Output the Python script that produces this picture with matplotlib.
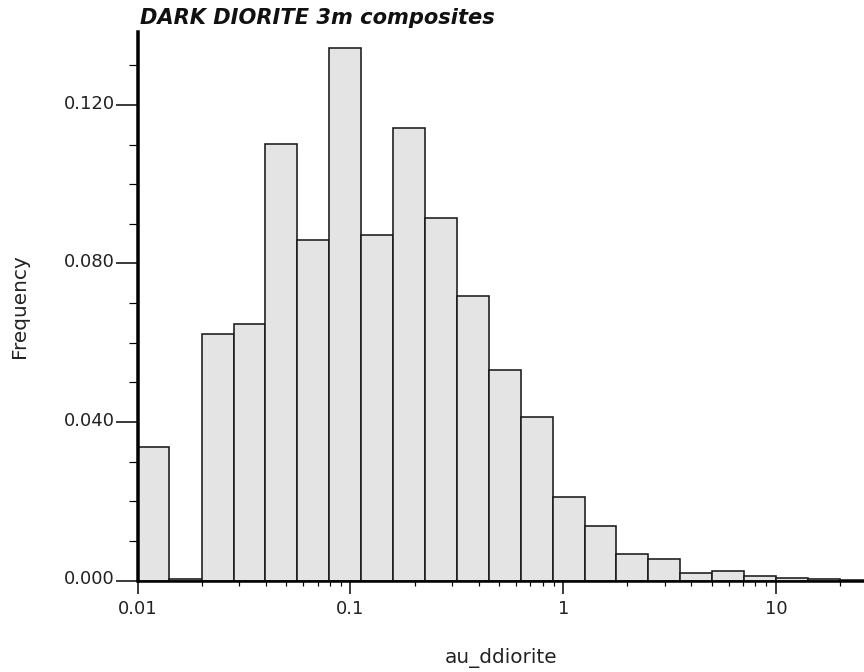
import matplotlib
matplotlib.use("Agg")
import matplotlib.pyplot as plt
import matplotlib.ticker as mticker
import matplotlib.transforms as mtrans

# Histogram bin edges (log-spaced)
bin_edges = [0.0100, 0.0141, 0.0200, 0.0282, 0.0398, 0.0562, 0.0794, 0.1122,
             0.1585, 0.2239, 0.3162, 0.4467, 0.6310, 0.8913, 1.259, 1.778,
             2.512, 3.548, 5.012, 7.079, 10.00, 14.13, 19.95, 28.18]
# Relative frequency per bin
frequency = [0.0336, 0.0005, 0.0622, 0.0647, 0.1102, 0.0859, 0.1343, 0.0871,
             0.1142, 0.0914, 0.0718, 0.0531, 0.0413, 0.0210, 0.0138, 0.0066,
             0.0054, 0.0018, 0.0023, 0.0011, 0.0007, 0.0003, 0.0002]

x_ticks = [0.01, 0.1, 1, 10]
x_ticklabels = ["0.01", "0.1", "1", "10"]
y_ticks = [0.0, 0.04, 0.08, 0.12]
y_ticklabels = ["0.000", "0.040", "0.080", "0.120"]

title = "DARK DIORITE 3m composites"
xlabel = "au_ddiorite"
ylabel = "Frequency"

W, H = 864, 672
fig = plt.figure(figsize=(W / 72, H / 72), dpi=72)
ax = fig.add_axes([137.7 / W, 1 - 580.5 / H, 1 - 137.7 / W, (580.5 - 32) / H])

lefts = bin_edges[:-1]
widths = [b - a for a, b in zip(bin_edges[:-1], bin_edges[1:])]
ax.bar(lefts, frequency, width=widths, align="edge", color="#e4e4e4",
       edgecolor="#1a1a1a", linewidth=1.6, zorder=2)

ax.set_xscale("log")
ax.set_xlim(0.01, 25.9)
ax.set_ylim(0, 0.1384)

ax.set_xticks(x_ticks)
ax.set_xticklabels(x_ticklabels)
ax.xaxis.set_minor_locator(mticker.LogLocator(base=10, subs=range(2, 10)))
ax.xaxis.set_minor_formatter(mticker.NullFormatter())

ax.set_yticks(y_ticks)
ax.set_yticklabels(y_ticklabels)
ax.yaxis.set_minor_locator(mticker.MultipleLocator(0.01))

for s in ["top", "right"]:
    ax.spines[s].set_visible(False)
ax.spines["left"].set_linewidth(3.5)
ax.spines["bottom"].set_linewidth(2.5)
ax.spines["left"].set_zorder(5)
ax.spines["bottom"].set_zorder(5)

txt_color = "#222222"
ax.tick_params(axis="x", which="major", length=13, width=1.5, pad=7,
               labelsize=18, labelcolor=txt_color, direction="out")
ax.tick_params(axis="x", which="minor", length=5, width=1.2, direction="out")
ax.tick_params(axis="y", which="major", length=22, width=1.5, pad=1,
               labelsize=18, labelcolor=txt_color, direction="out")
ax.tick_params(axis="y", which="minor", length=9, width=1.2, direction="out")

# y tick labels sit slightly above their ticks
offset = mtrans.ScaledTranslation(0, 3 / 72, fig.dpi_scale_trans)
for lab in ax.get_yticklabels():
    lab.set_transform(lab.get_transform() + offset)

ax.set_xlabel(xlabel, fontsize=20, color=txt_color, labelpad=29)
ax.set_ylabel(ylabel, fontsize=20, color=txt_color, labelpad=35)

fig.text(140 / W, 1 - 8 / H, title, fontsize=21, fontweight="bold",
         fontstyle="italic", ha="left", va="top", color="#111111")

fig.savefig("out.png", dpi=72)
